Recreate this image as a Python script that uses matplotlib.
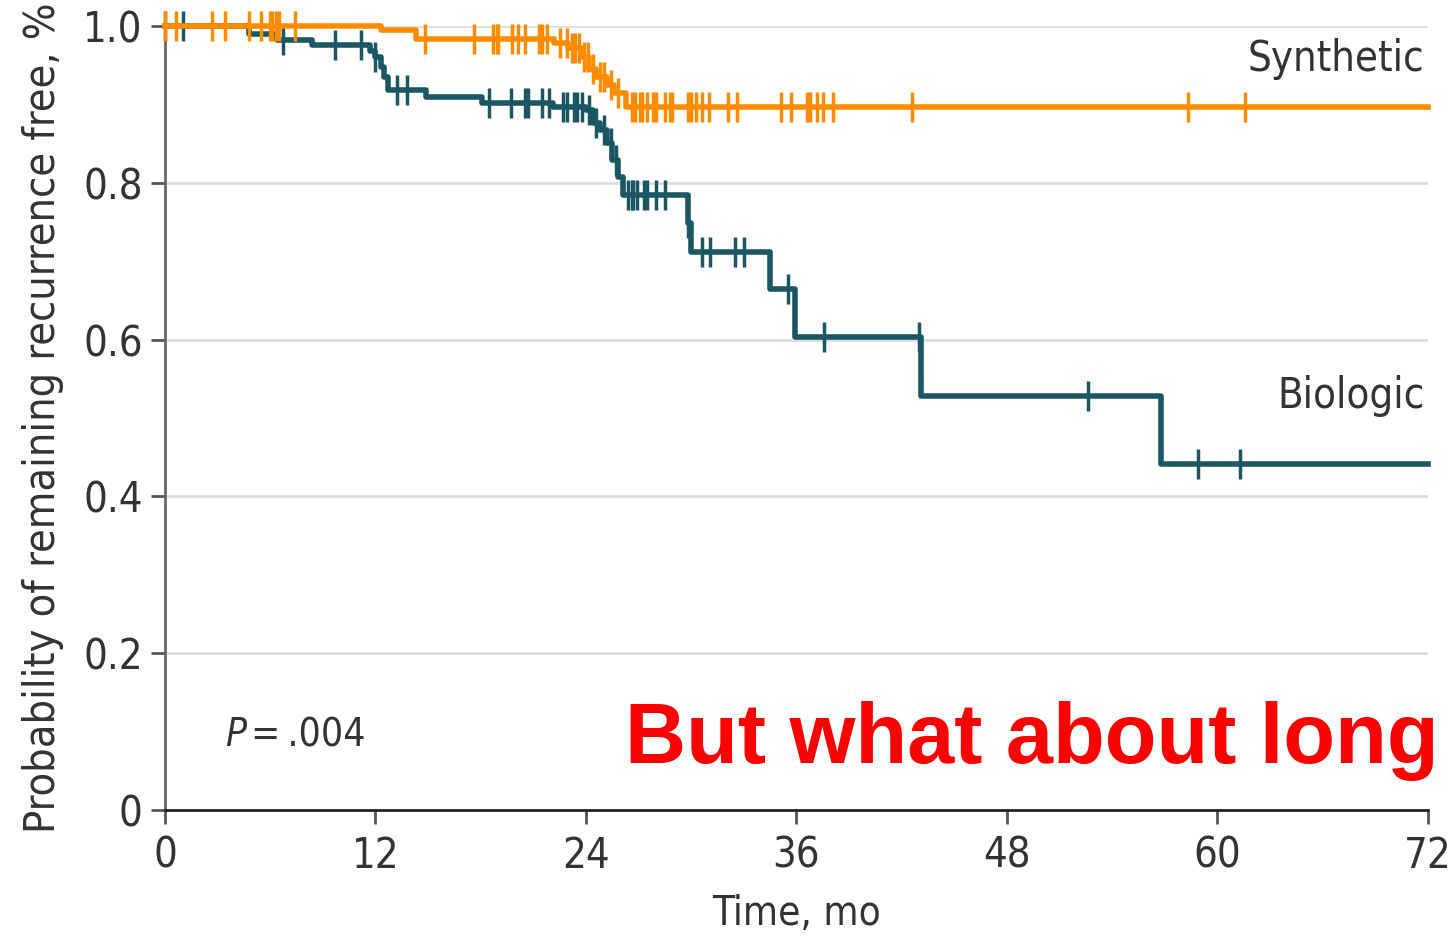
import matplotlib.pyplot as plt

plt.rcParams['font.family'] = ['DejaVu Sans']
plt.rcParams['font.stretch'] = 'condensed'

# step curves: (time in months, survival after the step)
syn_t = [0, 12.3, 14.3, 22.2, 23.0, 23.7, 24.2, 24.6, 25.2, 25.6, 26.3]
syn_s = [1.0, 0.995, 0.983, 0.978, 0.972, 0.960, 0.945, 0.935, 0.925, 0.915, 0.897]
syn_cens = [0, 0.6, 2.7, 3.4, 4.8, 5.5, 6.0, 6.1, 6.3, 6.5, 7.4,
            14.8, 17.6, 18.7, 18.9, 19.0, 19.8, 20.1, 20.5, 21.3, 21.5, 21.8, 22.5,
            22.9, 23.2, 23.4, 23.6, 23.9, 24.1, 24.4, 24.8, 25.0, 25.4, 25.8,
            26.6, 26.8, 27.1, 27.2, 27.5, 27.8, 28.0, 28.5, 28.8, 28.9, 29.8, 30.0,
            30.3, 30.6, 31.0, 32.1, 32.6, 35.1, 35.7, 36.6, 36.8, 37.2, 37.5, 38.1,
            42.6, 58.3, 61.6]

bio_t = [0, 4.8, 6.4, 8.4, 11.7, 12.0, 12.3, 12.5, 12.7, 14.9, 18.1, 22.1,
         24.0, 24.4, 24.8, 25.2, 25.5, 25.8, 26.1, 29.8, 30.0, 34.5, 35.9, 43.1, 56.8]
bio_s = [1.0, 0.990, 0.982, 0.976, 0.968, 0.960, 0.948, 0.935, 0.918, 0.909, 0.902,
         0.897, 0.893, 0.876, 0.867, 0.851, 0.829, 0.807, 0.784, 0.749, 0.712, 0.664,
         0.603, 0.528, 0.441]
bio_cens = [0, 1.0, 6.7, 9.7, 11.2, 12.0, 13.2, 13.8, 18.5, 19.7, 20.5, 20.7, 21.5,
            21.9, 22.7, 22.9, 23.3, 23.5, 23.8, 24.2, 24.6, 25.0, 25.4, 25.7,
            26.4, 26.6, 26.7, 26.9, 27.3, 27.5, 28.0, 28.5, 29.8, 30.6, 31.1, 32.5,
            33.0, 35.5, 37.6, 43.0, 52.6, 58.9, 61.3]

orange = '#ff8c00'
teal = '#1b5663'
txt = '#333333'


def surv_at(ts, ss, x):
    v = ss[0]
    for t, s in zip(ts, ss):
        if x >= t:
            v = s
    return v


fig = plt.figure(figsize=(14.54, 9.38), dpi=100)
ax = fig.add_axes([0.1135, 0.1365, 0.8685, 0.8358])

for y in [0.2, 0.4, 0.6, 0.8, 1.0]:
    ax.axhline(y, color='#dddddd', lw=2, zorder=0)

for ts, ss, cens, c in [(bio_t, bio_s, bio_cens, teal), (syn_t, syn_s, syn_cens, orange)]:
    ax.step(ts + [72], ss + [ss[-1]], where='post', color=c, lw=4, clip_on=False, zorder=3)
    cy = [surv_at(ts, ss, x) for x in cens]
    ax.plot(cens, cy, ls='none', marker='|', ms=22, mew=2.5, color=c, clip_on=False, zorder=3)

ax.set_xlim(0, 72)
ax.set_ylim(0, 1.0)
ax.set_xticks([0, 12, 24, 36, 48, 60, 72])
ax.set_yticks([0, 0.2, 0.4, 0.6, 0.8, 1.0])
ax.set_yticklabels(['0', '0.2', '0.4', '0.6', '0.8', '1.0'])
ax.tick_params(axis='both', labelsize=30, colors=txt, length=10, width=2)
ax.tick_params(axis='x', pad=8, colors='#555555', labelcolor=txt)
ax.tick_params(axis='y', pad=6, colors='#555555', labelcolor=txt)
for s in ['top', 'right']:
    ax.spines[s].set_visible(False)
ax.spines['left'].set_color('#666666')
ax.spines['left'].set_linewidth(2)
ax.spines['bottom'].set_color('#222222')
ax.spines['bottom'].set_linewidth(2)

ax.set_xlabel('Time, mo', fontsize=29, color=txt, labelpad=12)
ax.set_ylabel('Probability of remaining recurrence free, %', fontsize=31, color=txt, labelpad=14)

ax.text(71.8, 0.985, 'Synthetic', fontsize=30, color=txt, ha='right', va='top')
ax.text(71.8, 0.555, 'Biologic', fontsize=30, color=txt, ha='right', va='top')
ax.text(3.4, 0.095, 'P', fontsize=28, fontstyle='italic', color=txt, ha='left', va='center')
ax.text(4.9, 0.095, '=\u2009.004', fontsize=28, color=txt, ha='left', va='center')

ax.text(26.2, 0.06, 'But what about long', fontsize=61, fontweight='bold',
        fontstretch='normal', color='#ff0000', family='Liberation Sans',
        ha='left', va='baseline', clip_on=False)

fig.savefig('out.png', dpi=100)
